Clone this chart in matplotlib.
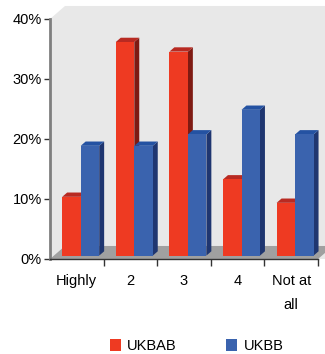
import matplotlib.pyplot as plt
from matplotlib.patches import Polygon, Patch

plt.rcParams['font.family'] = ['Liberation Sans', 'DejaVu Sans']

# Survey answers, share of respondents (%)
categories = ['Highly', '2', '3', '4', 'Not at\nall']
ukbab = [9.8, 35.6, 34.0, 12.7, 8.8]
ukbb = [18.3, 18.3, 20.2, 24.3, 20.2]
yticks = [0, 10, 20, 30, 40]

# colours: front, top, side
red = ('#ee3a22', '#b82a22', '#7e1a12')
blue = ('#3a63ae', '#2452a2', '#1f3670')

fig = plt.figure(figsize=(3.25, 3.54), dpi=100)
ax = fig.add_axes([50 / 325, (354 - 259) / 354, 268 / 325, 240 / 354])
n = len(categories)
ax.set_xlim(0, n)
ax.set_ylim(0, 40)

# depth of the fake 3d box, in data units
dx, dy = 0.28, 2.17
f0, f1 = 0.26, 0.59
w = 0.345

# back wall + left side, floor
wall = Polygon([(0, 0), (0, 40), (dx, 40 + dy), (n + dx, 40 + dy), (n + dx, 0)],
               closed=True, fc='#e8e8e8', ec='none', clip_on=False, zorder=0)
floor = Polygon([(0, 0), (dx, dy), (n + dx, dy), (n, 0)],
                closed=True, fc='#a0a0a0', ec='none', clip_on=False, zorder=1)
ax.add_patch(wall)
ax.add_patch(floor)


def bar3d(x0, h, cols, z):
    ox, oy = f0 * dx, f0 * dy
    px, py = (f1 - f0) * dx, (f1 - f0) * dy
    xl, xr = x0 + ox, x0 + w + ox
    yb, yt = oy, h + oy
    side = Polygon([(xr, yb), (xr + px, yb + py), (xr + px, yt + py), (xr, yt)],
                   closed=True, fc=cols[2], ec='none', clip_on=False, zorder=z)
    top = Polygon([(xl, yt), (xl + px, yt + py), (xr + px, yt + py), (xr, yt)],
                  closed=True, fc=cols[1], ec='none', clip_on=False, zorder=z)
    ax.add_patch(side)
    ax.add_patch(top)
    ax.bar(xl, h, width=w, bottom=yb, align='edge', color=cols[0],
           linewidth=0, zorder=z, clip_on=False)


for i in range(n):
    bar3d(i + 0.5 - w, ukbab[i], red, 2 + 2 * i)
    bar3d(i + 0.5, ukbb[i], blue, 3 + 2 * i)

for s in ['top', 'right']:
    ax.spines[s].set_visible(False)
ax.spines['left'].set_color('#7f7f7f')
ax.spines['left'].set_linewidth(2)
ax.spines['bottom'].set_color('#333333')
ax.spines['bottom'].set_linewidth(1)

ax.set_yticks(yticks)
ax.set_yticklabels([f'{v}%' for v in yticks], fontsize=10.5)
ax.tick_params(axis='y', length=4, width=1, color='#333333', pad=2)

ax.set_xticks(range(1, n + 1))
ax.set_xticklabels([])
ax.set_xticks([i + 0.5 for i in range(n)], minor=True)
ax.set_xticklabels(categories, minor=True, fontsize=10.5, linespacing=1.85)
ax.tick_params(axis='x', which='major', length=5, width=1, color='#333333')
ax.tick_params(axis='x', which='minor', length=0, pad=11)

handles = [Patch(fc=red[0], label='UKBAB'), Patch(fc=blue[0], label='UKBB')]
fig.legend(handles=handles, loc='center', bbox_to_anchor=(0.605, 0.022), ncol=2,
           frameon=False, fontsize=10.5, handlelength=0.75, handleheight=0.85,
           handletextpad=0.45, columnspacing=3.4)

fig.savefig('out.png', dpi=100)
